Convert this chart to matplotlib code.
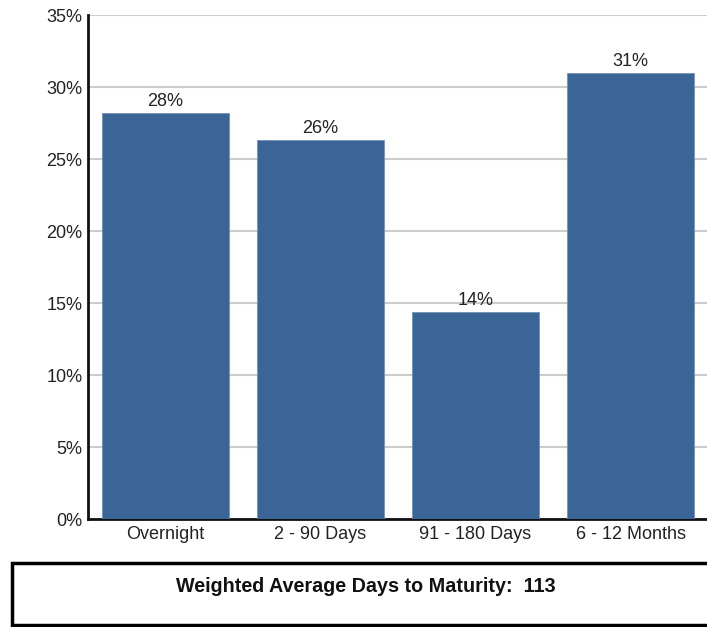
import matplotlib
matplotlib.use("Agg")
import matplotlib.pyplot as plt
from matplotlib.patches import Rectangle
from matplotlib.ticker import FuncFormatter, MultipleLocator

categories = ["Overnight", "2 - 90 Days", "91 - 180 Days", "6 - 12 Months"]
shares = [28.2, 26.3, 14.4, 31.0]
wam_label = "Weighted Average Days to Maturity:"
wam_days = 113

plt.rcParams["font.family"] = ["Liberation Sans", "DejaVu Sans"]

W, H = 707, 627
fig = plt.figure(figsize=(W / 100, H / 100), dpi=100)

left, right = 88 / W, 708 / W
bottom, top = 1 - 519 / H, 1 - 15 / H
ax = fig.add_axes([left, bottom, right - left, top - bottom])

bar_color = "#3a6596"
x = range(len(categories))
ax.bar(x, shares, width=0.82, color=bar_color, edgecolor="#7393bb",
       linewidth=0.6, zorder=3)

for xi, v in zip(x, shares):
    ax.text(xi, v + 0.2, f"{v:.0f}%", ha="center", va="bottom",
            fontsize=13, color="#222222", zorder=4)

ax.set_xlim(-0.5, 3.5)
ax.set_ylim(0, 35)
ax.yaxis.set_major_locator(MultipleLocator(5))
ax.yaxis.set_major_formatter(FuncFormatter(lambda v, p: f"{v:.0f}%"))
ax.set_xticks(list(x))
ax.set_xticklabels(categories)
ax.tick_params(axis="both", length=0, labelsize=13, colors="#222222")
ax.tick_params(axis="x", pad=5)
ax.tick_params(axis="y", pad=4)

ax.grid(axis="y", color="#cccccc", linewidth=1.5, zorder=0)
for s in ("top", "right"):
    ax.spines[s].set_visible(False)
ax.spines["left"].set_linewidth(2)
ax.spines["bottom"].set_linewidth(2)
ax.spines["left"].set_color("#111111")
ax.spines["bottom"].set_color("#111111")
ax.spines["bottom"].set_zorder(2)

# summary box below the chart
box = Rectangle((12 / W, 1 - 625 / H), (W + 10 - 12) / W, (625 - 563) / H,
                transform=fig.transFigure, facecolor="white",
                edgecolor="black", linewidth=2.5, clip_on=False)
fig.patches.append(box)
fig.text(366 / W, 1 - 586 / H, f"{wam_label}  {wam_days}", ha="center",
         va="center", fontsize=14.2, fontweight="bold", color="#111111")

fig.savefig("out.png", dpi=100)
